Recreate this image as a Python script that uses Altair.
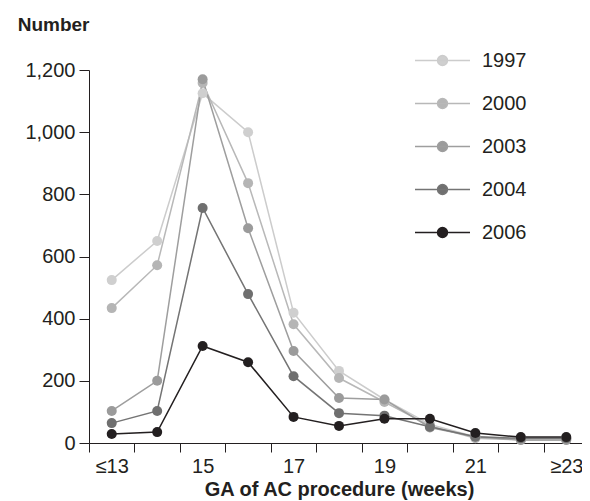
import altair as alt
import pandas as pd

categories = ["≤13", "14", "15", "16", "17", "18", "19", "20", "21", "22", "≥23"]
years = ["1997", "2000", "2003", "2004", "2006"]
v1997 = [524, 650, 1125, 1000, 419, 232, 140, 60, 20, 15, 15]
v2000 = [434, 572, 1158, 836, 382, 209, 132, 55, 15, 10, 10]
v2003 = [103, 200, 1170, 691, 296, 145, 140, 50, 20, 10, 10]
v2004 = [64, 103, 756, 479, 215, 96, 88, 52, 20, 15, 15]
v2006 = [29, 35, 312, 260, 84, 55, 78, 78, 32, 19, 19]
shown_labels = ["≤13", "15", "17", "19", "21", "≥23"]
y_ticks = [0, 200, 400, 600, 800, 1000, 1200]

line_colors = ["#cccccc", "#b8b8b8", "#9e9e9e", "#747474", "#231f20"]
dot_colors = ["#cfcfcf", "#b5b5b5", "#9b9b9b", "#6f6f6f", "#231f20"]

series = [v1997, v2000, v2003, v2004, v2006]
rows = []
for yr, vals in zip(years, series):
    for c, v in zip(categories, vals):
        rows.append({"ga": c, "year": yr, "n": v, "order": years.index(yr)})
df = pd.DataFrame(rows)

label_expr = "indexof(" + str(shown_labels).replace("'", '"') + ", datum.label) >= 0 ? datum.label : ''"

x_enc = alt.X(
    "ga:N",
    sort=categories,
    scale=alt.Scale(type="band", domain=categories, paddingInner=0, paddingOuter=0, range=[0, 500]),
    bandPosition=0.5,
    axis=alt.Axis(
        title="GA of AC procedure (weeks)",
        labelExpr=label_expr,
        labelAngle=0,
        tickBand="extent",
        tickSize=9,
        labelPadding=4,
        titlePadding=3,
        titleFontSize=20,
        titleX=250,
    ),
)
y_enc = alt.Y(
    "n:Q",
    scale=alt.Scale(domain=[0, 1200], nice=False),
    axis=alt.Axis(
        title="Number",
        values=y_ticks,
        format=",d",
        tickSize=10,
        labelPadding=4,
        titleAngle=0,
        titleAlign="right",
        titleBaseline="alphabetic",
        titleFontSize=19,
        titleX=0,
        titleY=-40,
    ),
)

legend = alt.Legend(
    title=None,
    orient="none",
    legendX=325,
    legendY=-38,
    symbolType="M-1,0H1M0.18,0A0.18,0.18,0,1,1,-0.18,0A0.18,0.18,0,1,1,0.18,0Z",
    symbolSize=3025,
    symbolStrokeWidth=1.5,
    labelFontSize=20,
    labelOffset=11,
    rowPadding=4,
    padding=0,
)

lines = alt.Chart(df).mark_line(strokeWidth=1.5).encode(
    x=x_enc,
    y=y_enc,
    stroke=alt.Stroke("year:N", scale=alt.Scale(domain=years, range=line_colors), legend=legend),
    order="order:Q",
)
points = alt.Chart(df).mark_point(filled=True, size=100, opacity=1).encode(
    x=x_enc,
    y=y_enc,
    fill=alt.Fill("year:N", scale=alt.Scale(domain=years, range=dot_colors), legend=legend),
    order="order:Q",
)

chart = (
    alt.layer(lines, points)
    .properties(
        width=493,
        height=373,
        autosize=alt.AutoSizeParams(type="none"),
        padding={"left": 81, "top": 62, "right": 0, "bottom": 58},
    )
    .configure(font="Liberation Sans")
    .configure_view(strokeWidth=0)
    .configure_axis(
        grid=False,
        domainColor="#231f20",
        tickColor="#231f20",
        labelColor="#231f20",
        titleColor="#231f20",
        labelFontSize=20,
        titleFontWeight="bold",
        labelFont="Liberation Sans",
        titleFont="Liberation Sans",
    )
    .configure_legend(labelColor="#231f20", labelFont="Liberation Sans")
)

chart.save("out.html", embed_options={"renderer": "svg", "actions": False})
